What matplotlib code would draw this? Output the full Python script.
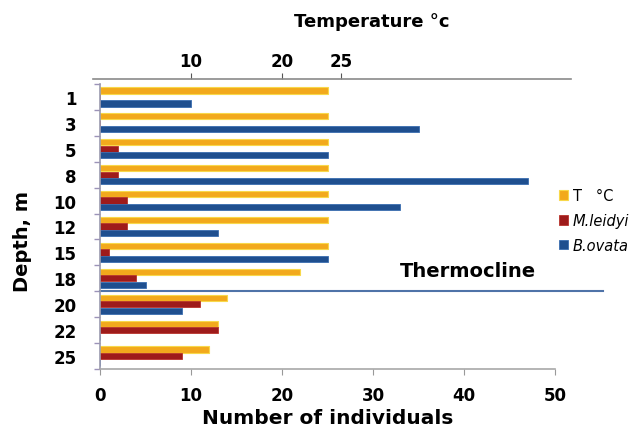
import matplotlib
matplotlib.use('Agg')
import matplotlib.pyplot as plt
import numpy as np

# Data
depths = ['1', '3', '5', '8', '10', '12', '15', '18', '20', '22', '25']
temperature = [25, 25, 25, 25, 25, 25, 25, 22, 14, 13, 12]
m_leidyi = [0, 0, 2, 2, 3, 3, 1, 4, 11, 13, 9]
b_ovata = [10, 35, 25, 47, 33, 13, 25, 5, 9, 0, 0]
top_ticks = [10, 20, 26.5]
top_labels = ['10', '20', '25']

W, H = 643, 435
fig = plt.figure(figsize=(W / 100, H / 100), dpi=100)

# main axes: x 100..555 px, y 85..370 px
ax = fig.add_axes([100 / W, 1 - 370 / H, 455 / W, 285 / H])

y = np.arange(len(depths))
h = 0.24
c_t, c_m, c_b = '#F2A91C', '#9E1B1B', '#1F4F8F'
bt = ax.barh(y - 0.25, temperature, height=h, color=c_t, edgecolor='#F8D84A', linewidth=0.8, label='T   °C')
bm = ax.barh(y, m_leidyi, height=h, color=c_m, edgecolor='#B8332C', linewidth=0.6, label='M.leidyi')
bb = ax.barh(y + 0.25, b_ovata, height=h, color=c_b, edgecolor='#3A6DB0', linewidth=0.6, label='B.ovata')

ax.set_xlim(0, 50)
ax.set_ylim(len(depths) - 0.5, -0.5)

# category labels at centres, tick marks at boundaries
ax.set_yticks(np.arange(len(depths) + 1) - 0.5)
ax.set_yticklabels([])
ax.set_yticks(y, minor=True)
ax.set_yticklabels(depths, minor=True, fontsize=12, fontweight='bold')
ax.tick_params(axis='y', which='minor', length=0, pad=17)
ax.tick_params(axis='y', which='major', length=4, color='#9C93B8', width=1)

ax.set_xticks([0, 10, 20, 30, 40, 50])
ax.tick_params(axis='x', length=4, color='#999999', labelsize=12, pad=8)
for lab in ax.get_xticklabels():
    lab.set_fontweight('bold')

for s in ['top', 'right']:
    ax.spines[s].set_visible(False)
ax.spines['left'].set_color('#9A9AAE')
ax.spines['bottom'].set_color('#A8A8A8')
ax.spines['left'].set_linewidth(1.2)
ax.spines['bottom'].set_linewidth(1.2)

ax.set_xlabel('Number of individuals', fontsize=14.5, fontweight='bold', labelpad=3)
fig.text(23 / W, 1 - 241 / H, 'Depth, m', fontsize=14, fontweight='bold',
         rotation=90, ha='center', va='center')

# thermocline line between 18 m and 20 m
ax.plot([0, 55.3], [7.5, 7.5], color='#4F73A8', linewidth=1.5, clip_on=False)
ax.text(33, 7.05, 'Thermocline', fontsize=14, fontweight='bold', ha='left', va='bottom')

# temperature axis on top
ax_top = fig.add_axes([93 / W, 1 - 80 / H, 478 / W, 0.001])
ax_top.patch.set_visible(False)
for s in ['left', 'right', 'bottom']:
    ax_top.spines[s].set_visible(False)
ax_top.spines['top'].set_color('#8A8A8A')
ax_top.spines['top'].set_linewidth(1.2)
ax_top.set_xlim(-7 / 9.1, 471 / 9.1)
ax_top.set_yticks([])
ax_top.xaxis.tick_top()
ax_top.set_xticks(top_ticks)
ax_top.set_xticklabels(top_labels, fontsize=12, fontweight='bold')
ax_top.tick_params(axis='x', length=4, color='#555555', pad=2)
fig.text(372 / W, 1 - 22 / H, 'Temperature °c', fontsize=13, fontweight='bold', ha='center', va='center')

leg = fig.legend(handles=[bt, bm, bb], loc='upper left', bbox_to_anchor=(546 / W, 1 - 176 / H),
                 frameon=False, fontsize=10.5, handlelength=0.6, handleheight=0.6,
                 handletextpad=0.35, labelspacing=0.68)
for t in leg.get_texts()[1:]:
    t.set_fontstyle('italic')

fig.savefig('out.png', dpi=100)
